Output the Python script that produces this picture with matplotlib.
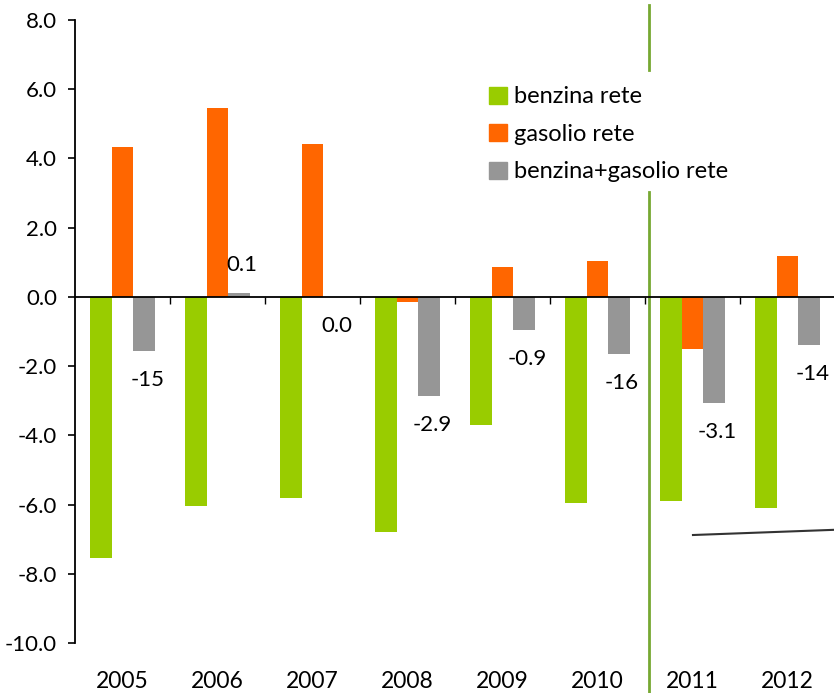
import numpy as np
import matplotlib
matplotlib.use("Agg")
from matplotlib import pyplot as plt
from matplotlib.patches import Patch

plt.rcParams['font.family'] = ['Lato', 'DejaVu Sans']

years = ["2005", "2006", "2007", "2008", "2009", "2010", "2011", "2012"]
benzina = [-7.55, -6.05, -5.8, -6.8, -3.7, -5.95, -5.9, -6.1]
gasolio = [4.33, 5.45, 4.42, -0.15, 0.87, 1.04, -1.5, 1.18]
totale = [-1.56, 0.12, 0.0, -2.86, -0.95, -1.64, -3.06, -1.39]
labels_tot = ["-15", "0.1", "0.0", "-2.9", "-0.9", "-16", "-3.1", "-14"]
series_names = ["benzina rete", "gasolio rete", "benzina+gasolio rete"]

c_green = "#99CC00"
c_orange = "#FF6600"
c_gray = "#969696"

fig = plt.figure(figsize=(8.34, 6.93), dpi=100)
ax = fig.add_axes([75 / 834, 50 / 693, 760 / 834, 623 / 693])

x = np.arange(len(years))
w = 0.228
ax.bar(x - w, benzina, w, color=c_green, zorder=2)
ax.bar(x, gasolio, w, color=c_orange, zorder=2)
ax.bar(x + w, totale, w, color=c_gray, zorder=2)

# data labels on the total series
for xi, v, lab in zip(x, totale, labels_tot):
    off = 28 if v > 0 else -29
    ax.annotate(lab, (xi + w, v), xytext=(3, off), textcoords="offset pixels",
                ha="center", va="center", fontsize=16)

ax.set_xlim(-0.5, 7.5)
ax.set_ylim(-10, 8)
ax.set_yticks(np.arange(-10, 9, 2))
ax.set_yticklabels([f"{t:.1f}" for t in np.arange(-10, 9, 2)], fontsize=16)
ax.tick_params(axis="y", length=5, width=1.2, direction="out", pad=8)

for s in ["top", "right"]:
    ax.spines[s].set_visible(False)
ax.spines["left"].set_linewidth(1.3)
ax.spines["bottom"].set_position(("data", 0))
ax.spines["bottom"].set_linewidth(1.3)
ax.spines["bottom"].set_zorder(3)
ax.set_xticks(x + 0.5)
ax.set_xticklabels([])
ax.tick_params(axis="x", length=5, width=1.0, direction="out")

sec = ax.secondary_xaxis(-0.01)
sec.set_xticks(x)
sec.set_xticklabels(years, fontsize=16.5)
sec.tick_params(length=0, pad=16)
sec.spines["bottom"].set_visible(False)

# vertical separator line and small annotation line
trans = matplotlib.transforms.blended_transform_factory(ax.transData, ax.transAxes)
ax.plot([5.54, 5.54], [1.024, 0.92], color="#77A832", lw=2, transform=trans, clip_on=False)
ax.plot([5.54, 5.54], [0.724, -0.09], color="#77A832", lw=2, transform=trans, clip_on=False)
ax.plot([6.005, 7.49], [-6.88, -6.73], color="#333333", lw=1.5, clip_on=False)

handles = [Patch(color=c) for c in (c_green, c_orange, c_gray)]
fig.legend(handles, series_names, loc="upper left", bbox_to_anchor=(480 / 834, 1 - 77 / 693),
           frameon=False, fontsize=17, handlelength=0.75, handleheight=0.75,
           handletextpad=0.3, labelspacing=0.7, borderaxespad=0)

fig.savefig("out.png", dpi=100)
